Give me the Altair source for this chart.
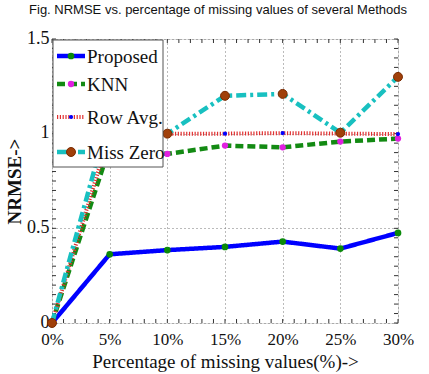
import altair as alt
import pandas as pd

pct = [0, 5, 10, 15, 20, 25, 30]
proposed = [0, 0.363, 0.385, 0.402, 0.43, 0.393, 0.476]
knn = [0, 0.93, 0.893, 0.937, 0.928, 0.958, 0.974]
rowavg = [0, 1.0, 1.0, 1.0, 1.003, 1.0, 0.998]
misszero = [0, 1.10, 1.0, 1.20, 1.21, 1.005, 1.30]
series_names = ["Proposed", "KNN", "Row Avg.", "Miss Zero"]
x_ticks = [0, 5, 10, 15, 20, 25, 30]
y_ticks = [0, 0.5, 1, 1.5]

W, H = 346, 284
SERIF = "Liberation Serif"

styles = {
    "Proposed": dict(color="#0000ff", dash=[1, 0], width=4.5, mcolor="#0a8a0a", msize=45, mstroke=None),
    "KNN": dict(color="#138a13", dash=[8, 4], width=4.5, mcolor="#e020e0", msize=40, mstroke=None),
    "Row Avg.": dict(color="#e03030", dash=[1.2, 1.6], width=4, mcolor="#0000ff", msize=18, mstroke=None),
    "Miss Zero": dict(color="#18c0c0", dash=[10, 4, 3, 4], width=4.5, mcolor="#a0400a", msize=80, mstroke="#7a2a00"),
}
values = {"Proposed": proposed, "KNN": knn, "Row Avg.": rowavg, "Miss Zero": misszero}

xs = alt.Scale(domain=[0, 30], nice=False)
ys = alt.Scale(domain=[0, 1.5], nice=False)

x_axis = alt.Axis(values=x_ticks, labelExpr="datum.value + '%'", title="Percentage of missing values(%)->",
                  grid=True, gridDash=[1, 3], gridColor="#777", gridOpacity=1,
                  tickSize=0, domain=False, labelFont=SERIF, labelFontSize=17, labelColor="#111",
                  titleFont=SERIF, titleFontSize=19, titleFontWeight="normal", titleColor="#111",
                  labelPadding=8, titlePadding=5, labelFlush=False)
y_axis = alt.Axis(values=y_ticks, format=".1~f", title="NRMSE->", grid=True, gridDash=[1, 3], gridColor="#777",
                  gridOpacity=1, tickSize=0, domain=False, labelFont=SERIF, labelFontSize=18, labelColor="#111",
                  titleFont=SERIF, titleFontSize=19, titleFontWeight="bold", titleColor="#111",
                  labelPadding=3, titlePadding=2, labelFlush=False, labelOffset=-1)


def X(field):
    return alt.X(field, scale=xs, axis=x_axis)


def Y(field):
    return alt.Y(field, scale=ys, axis=y_axis)


layers = []

# minor ticks
xt = pd.DataFrame({"t": list(range(0, 31))})
yt = pd.DataFrame({"t": [round(i * 0.05, 2) for i in range(0, 31)]})
for (ya, yb) in [(H, H - 4), (0, 4)]:
    layers.append(alt.Chart(xt).mark_rule(color="#333", strokeWidth=1).encode(
        x=X("t:Q"), y=alt.value(ya), y2=alt.value(yb)))
for (xa, xb) in [(0, 4), (W, W - 4)]:
    layers.append(alt.Chart(yt).mark_rule(color="#333", strokeWidth=1).encode(
        y=Y("t:Q"), x=alt.value(xa), x2=alt.value(xb)))

for name in series_names:
    st = styles[name]
    df = pd.DataFrame({"pct": pct, "nrmse": values[name]})
    layers.append(alt.Chart(df).mark_line(color=st["color"], strokeDash=st["dash"], strokeWidth=st["width"]).encode(
        x=X("pct:Q"), y=Y("nrmse:Q")))
for name in series_names:
    st = styles[name]
    df = pd.DataFrame({"pct": pct, "nrmse": values[name]})
    kw = dict(filled=True, color=st["mcolor"], size=st["msize"], opacity=1)
    if st["mstroke"]:
        kw.update(stroke=st["mstroke"], strokeWidth=1)
    layers.append(alt.Chart(df).mark_point(**kw).encode(x=X("pct:Q"), y=Y("nrmse:Q")))

# legend box
leg_df = pd.DataFrame({"k": [0]})
layers.append(alt.Chart(leg_df).mark_rect(fill="white", stroke="#555", strokeWidth=1).encode(
    x=alt.value(1), x2=alt.value(111), y=alt.value(1), y2=alt.value(128)))
rows_y = [17, 45, 78, 113]
for name, ry in zip(series_names, rows_y):
    st = styles[name]
    d = pd.DataFrame({"label": [name]})
    layers.append(alt.Chart(d).mark_rule(color=st["color"], strokeDash=st["dash"], strokeWidth=st["width"]).encode(
        x=alt.value(5), x2=alt.value(33), y=alt.value(ry)))
    kw = dict(filled=True, color=st["mcolor"], size=st["msize"], opacity=1)
    if st["mstroke"]:
        kw.update(stroke=st["mstroke"], strokeWidth=1)
    layers.append(alt.Chart(d).mark_point(**kw).encode(x=alt.value(19), y=alt.value(ry)))
    layers.append(alt.Chart(d).mark_text(align="left", baseline="middle", font=SERIF, fontSize=19, color="#111").encode(
        x=alt.value(35), y=alt.value(ry + 1), text="label:N"))

chart = alt.layer(*layers).properties(
    width=W, height=H,
    title=alt.TitleParams("Fig. NRMSE vs. percentage of missing values of several Methods",
                          font="Liberation Sans", fontSize=13, fontWeight="normal", color="#111",
                          anchor="middle", offset=12, dx=-7),
    autosize=alt.AutoSizeParams(type="none"),
    padding={"left": 52, "top": 39, "right": 31, "bottom": 51},
).configure_view(stroke="#444", strokeWidth=1).configure(background="white")

chart.save("out.html", embed_options={"renderer": "svg", "actions": False})
